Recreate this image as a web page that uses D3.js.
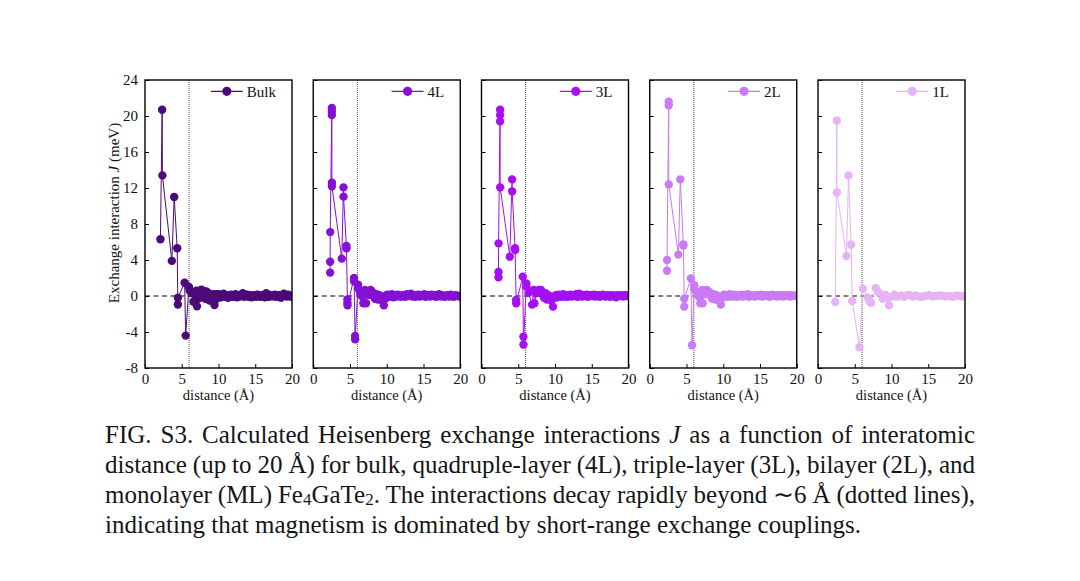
<!DOCTYPE html>
<html>
<head>
<meta charset="utf-8">
<script src="https://cdn.jsdelivr.net/npm/d3@7"></script>
<style>
	body { margin: 0; background: #fff; }
	#chart { position: absolute; left: 0; top: 0; }
	#caption {
		position: absolute; left: 105px; top: 419.5px; width: 870px;
		font-family: "Liberation Serif", serif; font-size: 25px; line-height: 30px; color: #151515;
	}
	#caption div { text-align: justify; text-align-last: justify; white-space: nowrap; }
	#caption div.tight { word-spacing: -0.8px; }
	#caption div.last { text-align-last: left; }
	#caption sub { font-size: 0.68em; vertical-align: -0.12em; line-height: 0; }
</style>
</head>
<body>
<div id="chart"></div>
<div id="caption">
	<div>FIG. S3. Calculated Heisenberg exchange interactions <i>J</i> as a function of interatomic</div>
	<div class="tight">distance (up to 20 Å) for bulk, quadruple-layer (4L), triple-layer (3L), bilayer (2L), and</div>
	<div class="tight">monolayer (ML) Fe<sub>4</sub>GaTe<sub>2</sub>. The interactions decay rapidly beyond ∼6 Å (dotted lines),</div>
	<div class="last">indicating that magnetism is dominated by short-range exchange couplings.</div>
</div>
<script>
// PANEL NAMES (LEGEND LABELS)
const panelNames = ["Bulk", "4L", "3L", "2L", "1L"];
const xTicks = [0, 5, 10, 15, 20];
const yTicks = [-8, -4, 0, 4, 8, 12, 16, 20, 24];
const cutoff = 6;

// SHORT-RANGE PART (distance in A, J in meV)
const bulkR = [2.10, 2.33, 2.37, 3.65, 3.97, 4.38, 4.47, 4.48, 5.39, 5.53, 5.98, 6.07, 6.35, 6.6, 6.85, 6.98, 7.07, 7.25, 7.45, 7.66, 7.9, 8.05, 8.2, 8.35, 8.5, 8.65, 8.8, 8.95, 9.1, 9.3, 9.45, 9.6, 9.75, 9.9];
const bulkJ = [6.3, 20.7, 13.4, 3.9, 11.0, 5.3, -0.95, -0.2, 1.48, -4.4, 1.0, 0.6, 0.3, -0.63, 0.2, 0.6, -1.15, -0.3, 0.4, 0.7, 0.6, 0.2, -0.3, 0.5, -0.2, 0.3, -0.5, 0.1, -0.4, 0.2, -1.0, -0.4, 0.2, -0.2];

const l4R = [2.30, 2.30, 2.31, 2.53, 2.53, 2.53, 2.54, 2.54, 3.88, 4.11, 4.12, 4.51, 4.52, 4.65, 4.65, 4.66, 5.55, 5.56, 5.69, 5.70, 6.1, 6.11, 6.37, 6.6, 6.82, 7.04, 7.18, 7.4, 7.6, 7.8, 8.0, 8.2, 8.4, 8.6, 8.8, 9.0, 9.2, 9.4, 9.6, 9.8, 9.95];
const l4J = [2.6, 3.8, 7.1, 20.9, 20.5, 20.1, 12.6, 12.2, 4.15, 12.07, 11.04, 5.55, 5.3, -0.37, -0.74, -1.04, 2.0, 1.63, -4.44, -4.81, 1.26, 0.85, 0.37, 0.0, -0.81, 0.67, -0.81, 0.3, 0.1, 0.67, 0.48, 0.1, -0.3, 0.2, -0.4, 0.1, -0.3, -0.5, -1.04, -0.3, 0.1];

const l3R = [2.31, 2.31, 2.32, 2.53, 2.53, 2.53, 2.54, 3.85, 4.16, 4.17, 4.57, 4.58, 4.71, 4.72, 5.61, 5.70, 5.71, 6.1, 6.11, 6.4, 6.88, 7.1, 7.2, 7.45, 7.8, 8.1, 8.3, 8.5, 8.7, 8.9, 9.1, 9.3, 9.5, 9.73, 9.9];
const l3J = [2.07, 2.67, 5.85, 20.7, 20.1, 19.4, 12.07, 4.37, 12.96, 11.63, 5.3, 5.1, -0.44, -0.81, 2.15, -4.52, -5.4, 1.4, 1.04, 0.37, -0.96, 0.67, -0.81, 0.3, 0.67, 0.67, 0.2, -0.2, 0.3, -0.4, 0.1, -0.3, -0.5, -1.18, -0.2];

const l2R = [2.35, 2.35, 2.58, 2.58, 2.59, 3.89, 4.16, 4.57, 4.58, 4.70, 4.70, 5.6, 5.75, 6.06, 6.07, 6.4, 6.7, 6.88, 7.15, 7.2, 7.45, 7.8, 8.1, 8.3, 8.5, 8.7, 8.9, 9.1, 9.3, 9.5, 9.68, 9.85];
const l2J = [2.8, 4.0, 21.6, 21.2, 12.4, 4.6, 12.96, 5.74, 5.6, -1.18, -0.3, 1.96, -5.48, 1.19, 0.74, 0.2, -0.07, -0.81, 0.67, -0.81, 0.2, 0.67, 0.44, 0.0, -0.3, 0.2, -0.4, 0.1, -0.3, -0.5, -0.96, -0.2];

// LONG-RANGE TAIL (shared distances for bulk, 4L, 3L, 2L)
const tailR = [10.1, 10.3, 10.5, 10.7, 10.9, 11.1, 11.3, 11.5, 11.7, 11.9,
	12.1, 12.3, 12.5, 12.7, 12.9, 13.1, 13.3, 13.5, 13.7, 13.9,
	14.1, 14.3, 14.5, 14.7, 14.9, 15.1, 15.3, 15.5, 15.7, 15.9,
	16.1, 16.3, 16.5, 16.7, 16.9, 17.1, 17.3, 17.5, 17.7, 17.9,
	18.1, 18.3, 18.5, 18.7, 18.9, 19.1, 19.3, 19.5, 19.7, 19.9];
const bulkTailJ = [0.2, -0.15, 0.1, 0.25, -0.1, 0.05, -0.2, 0.1, 0.15, -0.1,
	0.0, 0.2, -0.15, 0.1, -0.05, 0.1, 0.3, -0.1, 0.05, 0.15,
	-0.1, 0.1, -0.15, 0.05, 0.1, -0.1, 0.15, 0.0, -0.1, 0.1,
	0.05, -0.15, 0.3, 0.0, -0.1, 0.1, 0.05, -0.05, 0.15, -0.1,
	0.05, 0.1, -0.2, 0.05, 0.25, 0.1, -0.05, 0.15, 0.0, -0.1];
const l4TailJ = [0.15, -0.1, 0.05, 0.2, -0.15, 0.1, -0.05, 0.15, 0.0, -0.1,
	0.1, 0.05, -0.1, 0.2, 0.0, 0.15, 0.25, -0.05, 0.1, -0.1,
	0.05, 0.15, -0.05, 0.1, 0.0, 0.2, -0.1, 0.05, 0.1, -0.05,
	0.15, 0.0, 0.1, -0.1, 0.05, 0.2, -0.05, 0.1, 0.0, -0.1,
	0.05, 0.1, -0.05, 0.15, 0.0, -0.1, 0.1, 0.05, 0.0, -0.05];
const l3TailJ = [0.1, -0.15, 0.15, 0.05, -0.1, 0.2, -0.05, 0.1, -0.1, 0.05,
	0.15, -0.05, 0.1, 0.0, 0.2, -0.1, 0.25, 0.05, -0.05, 0.1,
	0.0, 0.15, -0.1, 0.05, 0.1, 0.0, 0.15, -0.05, 0.05, 0.1,
	-0.1, 0.05, 0.15, 0.0, -0.05, 0.1, 0.05, -0.1, 0.1, 0.0,
	0.05, -0.15, 0.1, 0.0, 0.05, 0.1, -0.05, 0.05, 0.1, 0.0];
const l2TailJ = [0.15, -0.05, 0.1, -0.1, 0.2, 0.0, -0.05, 0.15, 0.05, -0.1,
	0.1, 0.0, 0.15, -0.05, 0.1, 0.05, 0.2, -0.1, 0.05, 0.1,
	0.0, -0.05, 0.1, 0.05, 0.0, 0.15, -0.05, 0.1, 0.0, 0.05,
	0.1, -0.1, 0.05, 0.15, 0.0, 0.05, -0.05, 0.1, 0.0, 0.05,
	-0.05, 0.1, 0.0, 0.05, 0.1, -0.05, 0.05, 0.0, 0.05, 0.0];

// MONOLAYER (own, sparser distances)
const l1R = [2.35, 2.57, 2.57, 3.88, 4.15, 4.51, 4.65, 5.64, 6.1, 6.77, 7.0, 7.22, 7.86, 8.2, 8.8, 9.16, 9.4, 9.66, 10.1, 10.4, 10.8, 11.3, 11.7, 12.1, 12.5, 12.9, 13.3, 13.8, 14.2, 14.6, 15.1, 15.6, 16.0, 16.5, 17.0, 17.4, 17.9, 18.3, 18.8, 19.3, 19.7, 20.0];
const l1J = [-0.67, 19.5, 11.5, 4.44, 13.4, 5.7, -0.56, -5.7, 0.81, -0.15, -0.6, -0.74, 0.89, 0.44, -0.3, 0.15, -0.2, -1.04, -0.07, 0.15, -0.1, 0.05, -0.1, 0.1, 0.1, -0.05, 0.05, -0.1, -0.05, 0.0, 0.1, -0.05, 0.0, 0.05, 0.0, -0.05, 0.0, -0.1, 0.05, 0.0, -0.05, 0.0];

// COLOURS
const panelColors = ["#4b0a78", "#8410d4", "#a50ff2", "#c97af4", "#e6b4f4"];

function toPoints(r, J) {
	return r.map(function (d, i) {
		return { r: d, J: J[i] };
	});
}

var series = [
	toPoints(bulkR, bulkJ).concat(toPoints(tailR, bulkTailJ)),
	toPoints(l4R, l4J).concat(toPoints(tailR, l4TailJ)),
	toPoints(l3R, l3J).concat(toPoints(tailR, l3TailJ)),
	toPoints(l2R, l2J).concat(toPoints(tailR, l2TailJ)),
	toPoints(l1R, l1J),
];

// DIMENSIONS
var margin = { top: 80, left: 145 },
	panelWidth = 147,
	panelHeight = 288,
	panelStep = 168.25;
var serif = "'Liberation Serif', 'Times New Roman', serif";

var svg = d3
	.select("#chart")
	.append("svg")
	.attr("width", 1080)
	.attr("height", 581);

var x = d3.scaleLinear().domain([0, 20]).range([0, panelWidth]);
var y = d3.scaleLinear().domain([-8, 24]).range([panelHeight, 0]);

svg
	.append("defs")
	.append("clipPath")
	.attr("id", "panel-clip")
	.append("rect")
	.attr("width", panelWidth)
	.attr("height", panelHeight);

series.forEach(function (points, i) {
	var color = panelColors[i];
	var g = svg
		.append("g")
		.attr("transform", "translate(" + (margin.left + i * panelStep) + "," + margin.top + ")");

	// ZERO LINE (DASHED)
	g.append("line")
		.attr("x1", x(0))
		.attr("x2", x(20))
		.attr("y1", y(0))
		.attr("y2", y(0))
		.attr("stroke", "#000")
		.attr("stroke-width", 1)
		.attr("stroke-dasharray", "5,3.5");

	// CUTOFF LINE (DOTTED)
	g.append("line")
		.attr("x1", x(cutoff))
		.attr("x2", x(cutoff))
		.attr("y1", 0)
		.attr("y2", panelHeight)
		.attr("stroke", "#555")
		.attr("stroke-width", 1)
		.attr("stroke-dasharray", "1,1");

	var plot = g.append("g").attr("clip-path", "url(#panel-clip)");

	// LINE
	plot
		.append("path")
		.datum(points)
		.attr("fill", "none")
		.attr("stroke", color)
		.attr("stroke-width", 1)
		.attr(
			"d",
			d3
				.line()
				.x(function (d) {
					return x(d.r);
				})
				.y(function (d) {
					return y(d.J);
				})
		);

	// POINTS
	plot
		.selectAll(".dot")
		.data(points)
		.join("circle")
		.attr("class", "dot")
		.attr("cx", function (d) {
			return x(d.r);
		})
		.attr("cy", function (d) {
			return y(d.J);
		})
		.attr("r", 4.2)
		.attr("fill", color);

	// X-AXIS
	var xAxis = g
		.append("g")
		.attr("transform", "translate(0," + panelHeight + ")")
		.call(
			d3
				.axisBottom(x)
				.tickValues(xTicks)
				.tickSizeInner(-4)
				.tickSizeOuter(0)
				.tickPadding(5)
				.tickFormat(d3.format("d"))
		);
	xAxis.select(".domain").remove();
	xAxis.attr("font-family", serif).attr("font-size", 15);
	xAxis.selectAll("text").attr("fill", "#111");

	// Y-AXIS (LABELS ONLY ON FIRST PANEL)
	var yAxis = g.append("g").call(
		d3
			.axisLeft(y)
			.tickValues(yTicks)
			.tickSizeInner(-4)
			.tickSizeOuter(0)
			.tickPadding(7)
			.tickFormat(function (d) {
				return i === 0 ? String(d) : "";
			})
	);
	yAxis.select(".domain").remove();
	yAxis.attr("font-family", serif).attr("font-size", 15);
	yAxis.selectAll("text").attr("fill", "#111");

	// FRAME
	g.append("rect")
		.attr("width", panelWidth)
		.attr("height", panelHeight)
		.attr("fill", "none")
		.attr("stroke", "#000")
		.attr("stroke-width", 1.4);

	// LEGEND
	var label = g
		.append("text")
		.attr("x", panelWidth - 16)
		.attr("y", 17.3)
		.attr("text-anchor", "end")
		.attr("font-family", serif)
		.attr("font-size", 15)
		.attr("fill", "#111")
		.text(panelNames[i]);
	var tw = label.node().getComputedTextLength();
	var lx = panelWidth - 16 - tw - 4 - 32;
	g.append("line")
		.attr("x1", lx)
		.attr("x2", lx + 32)
		.attr("y1", 11.3)
		.attr("y2", 11.3)
		.attr("stroke", color)
		.attr("stroke-width", 1.2);
	g.append("circle")
		.attr("cx", lx + 16)
		.attr("cy", 11.3)
		.attr("r", 4.6)
		.attr("fill", color);

	// X TITLE
	svg
		.append("text")
		.attr("x", margin.left + i * panelStep + panelWidth / 2)
		.attr("y", 400)
		.attr("text-anchor", "middle")
		.attr("font-family", serif)
		.attr("font-size", 14.5)
		.attr("fill", "#111")
		.text("distance (Å)");
});

// Y TITLE
var yTitle = svg
	.append("text")
	.attr("transform", "translate(119,213) rotate(-90)")
	.attr("text-anchor", "middle")
	.attr("font-family", serif)
	.attr("font-size", 15)
	.attr("fill", "#111");
yTitle.append("tspan").text("Exchange interaction ");
yTitle.append("tspan").attr("font-style", "italic").text("J");
yTitle.append("tspan").text(" (meV)");
</script>
</body>
</html>
